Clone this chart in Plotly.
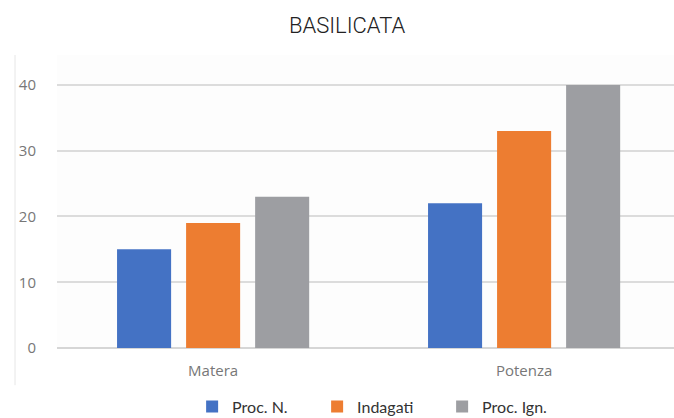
import plotly.graph_objects as go

categories = ["Matera", "Potenza"]
series_names = ["Proc. N.", "Indagati", "Proc. Ign."]
proc_n = [15, 22]
indagati = [19, 33]
proc_ign = [23, 40]
colors = ["#4472C4", "#ED7D31", "#9D9EA2"]
y_ticks = [0, 10, 20, 30, 40]

fig = go.Figure()
for name, vals, col in zip(series_names, [proc_n, indagati, proc_ign], colors):
    fig.add_trace(go.Bar(name=name, x=categories, y=vals, marker=dict(color=col, line=dict(width=0))))

fig.update_layout(
    width=674, height=418,
    margin=dict(l=57, r=0, t=55, b=70, autoexpand=False),
    paper_bgcolor="white", plot_bgcolor="#fdfdfd",
    barmode="group", bargap=0.334, bargroupgap=0.217,
    title=dict(text="BASILICATA", x=0.515, xanchor="center", y=0.94, yanchor="middle",
               font=dict(family="Roboto", size=22, color="#222", weight=300)),
    font=dict(family="Open Sans", color="#777"),
    xaxis=dict(range=[-0.502, 1.482], showgrid=False, ticks="", showline=False,
               tickfont=dict(size=15, color="#777"), ticklabelstandoff=12),
    yaxis=dict(range=[0, 44.56], tickvals=y_ticks, showgrid=True, gridcolor="#dcdcdc", gridwidth=1.5,
               zeroline=True, zerolinecolor="#d6d6d6", zerolinewidth=1.5,
               tickfont=dict(size=15, color="#777"), ticklabelstandoff=20),
    legend=dict(orientation="h", x=0.219, xanchor="left", y=-0.2, yanchor="middle",
                font=dict(family="Lato", size=16, color="#333"), entrywidth=80, traceorder="normal"),
    shapes=[dict(type="line", xref="paper", yref="paper", x0=-0.068, x1=-0.068, y0=-0.127, y1=1.0,
                 line=dict(color="#e6e6e6", width=1))],
)

fig.write_html("out.html", config={"displayModeBar": False},
               post_script="document.body.style.margin='0';document.body.style.overflow='hidden';")
